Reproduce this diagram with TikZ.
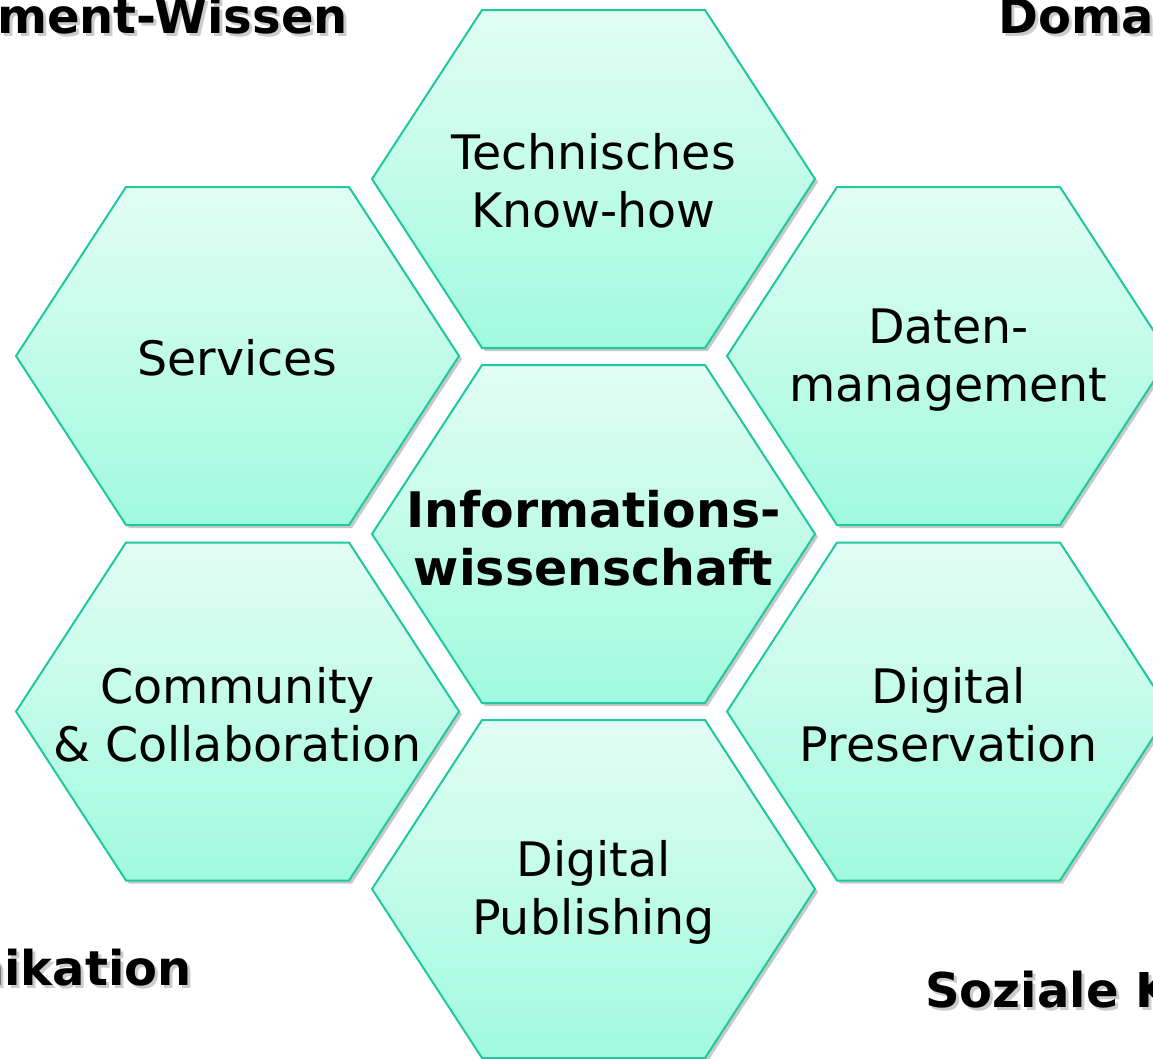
\documentclass[tikz,border=0pt]{standalone}
\usepackage{fontspec}
\setmainfont{DejaVu Sans}
\usetikzlibrary{shadows,calc}
\definecolor{hexTop}{RGB}{226,253,243}
\definecolor{hexBot}{RGB}{160,250,222}
\definecolor{hexLine}{RGB}{30,200,160}
\tikzset{
  hexcell/.style={top color=hexTop, bottom color=hexBot, draw=hexLine, line width=2pt, line join=miter,
    drop shadow={shadow xshift=3pt, shadow yshift=-3pt, opacity=0.3, fill=black!70}},
  hextext/.style={align=center, font=\fontsize{47.5}{58}\selectfont, text=black, inner sep=0pt},
  hexbold/.style={align=center, font=\fontsize{49}{58}\selectfont\bfseries, text=black, inner sep=0pt},
  corner/.style={font=\fontsize{48}{54}\selectfont\bfseries, inner sep=0pt, text=black},
  cornershadow/.style={corner, text=black!40, opacity=0.5},
}
\newcommand\hexcellat[1]{\path[hexcell] (#1) ++(-221.5,0) -- ++(110,-169) -- ++(223,0) -- ++(110,169) -- ++(-110,169) -- ++(-223,0) -- cycle;}
\begin{document}
\begin{tikzpicture}[x=1pt,y=-1pt]
\useasboundingbox (0,0) rectangle (1153,1058);
\clip (0,0) rectangle (1153,1058);
\fill[white] (0,0) rectangle (1153,1058);
% centres
\coordinate (cTop) at (593.5,179);
\coordinate (cMid) at (593.5,534);
\coordinate (cBot) at (593.5,889);
\coordinate (cLT) at (237.5,356);
\coordinate (cLB) at (237.5,711.5);
\coordinate (cRT) at (948.5,356);
\coordinate (cRB) at (948.5,711.5);
% hexagons
\hexcellat{cTop}
\hexcellat{cLT}
\hexcellat{cRT}
\hexcellat{cMid}
\hexcellat{cLB}
\hexcellat{cRB}
\hexcellat{cBot}
% texts
\node[hextext] (tTop) at ($(cTop)+(0,2)$) {Technisches\\Know-how};
\node[hextext] (tLT) at ($(cLT)+(0,2)$) {Services};
\node[hextext] (tRT) at ($(cRT)+(0,4)$) {Daten-\\management};
\node[hexbold] (tMid) at ($(cMid)+(0,4)$) {Informations-\\wissenschaft};
\node[hextext] (tLB) at ($(cLB)+(0,3)$) {Community\\\&~Collaboration};
\node[hextext] (tRB) at ($(cRB)+(0,3)$) {Digital\\Preservation};
\node[hextext] (tBot) at ($(cBot)+(0,3)$) {Digital\\Publishing};
% corner labels
\node[cornershadow, anchor=base east] at (351,36) {ment-Wissen};
\node[corner, anchor=base east] (kTL) at (348,33) {ment-Wissen};
\node[cornershadow, anchor=base west] at (1001,36) {Doma};
\node[corner, anchor=base west] (kTR) at (998,33) {Doma};
\node[cornershadow, anchor=base east] at (195,988) {nikation};
\node[corner, anchor=base east] (kBL) at (192,985) {nikation};
\node[cornershadow, anchor=base west] at (928,1010) {Soziale K};
\node[corner, anchor=base west] (kBR) at (925,1007) {Soziale K};
\end{tikzpicture}
\end{document}
